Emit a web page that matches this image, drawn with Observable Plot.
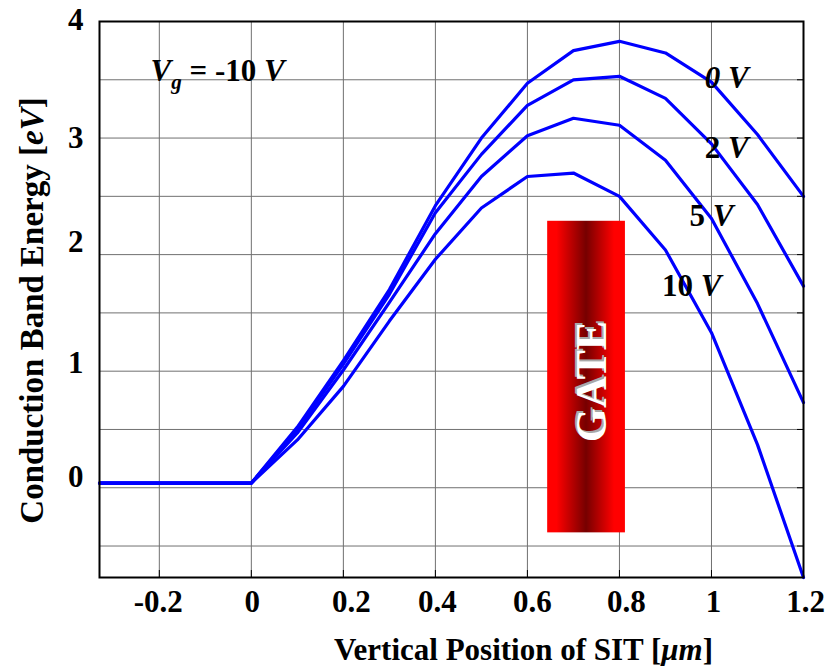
<!DOCTYPE html>
<html>
<head>
<meta charset="utf-8">
<script src="https://cdn.jsdelivr.net/npm/d3@7"></script>
<script src="https://cdn.jsdelivr.net/npm/@observablehq/plot@0.6"></script>
<style>
  html, body { margin: 0; padding: 0; background: #fff; }
  #chart { width: 828px; height: 666px; }
</style>
</head>
<body>
<div id="chart"></div>
<script>
// ---- data ----
const positions = [-0.33, 0, 0.1, 0.2, 0.3, 0.4, 0.5, 0.6, 0.7, 0.8, 0.9, 1.0, 1.1, 1.2];
const seriesNames = ["0 V", "2 V", "5 V", "10 V"];
const energy0V  = [0.04, 0.04, 0.52, 1.09, 1.70, 2.42, 3.00, 3.47, 3.75, 3.83, 3.73, 3.48, 3.03, 2.50];
const energy2V  = [0.04, 0.04, 0.50, 1.06, 1.66, 2.36, 2.86, 3.28, 3.50, 3.53, 3.34, 2.95, 2.43, 1.73];
const energy5V  = [0.04, 0.04, 0.47, 1.01, 1.59, 2.18, 2.67, 3.02, 3.17, 3.11, 2.81, 2.31, 1.58, 0.73];
const energy10V = [0.04, 0.04, 0.41, 0.87, 1.43, 1.96, 2.40, 2.67, 2.70, 2.50, 2.04, 1.33, 0.37, -0.77];
const xTicks = [-0.2, 0, 0.2, 0.4, 0.6, 0.8, 1, 1.2];
const xTickLabels = ["-0.2", "0", "0.2", "0.4", "0.6", "0.8", "1", "1.2"];
const yTicks = [0, 1, 2, 3, 4];
const yTickLabels = ["0", "1", "2", "3", "4"];
const yGridValues = [-0.5, 0, 0.5, 1, 1.5, 2, 2.5, 3, 3.5];
const xTitle = "Vertical Position of SIT [μm]";
const yTitle = "Conduction Band Energy [eV]";
const gateTitle = "Vg = -10 V";
const gateText = "GATE";

// ---- annotation layout (data units / pixels), kept apart from the values ----
const xDomain = [-0.33, 1.2];
const yDomain = [-0.77, 4];
const labelX = [1.033, 1.033, 1.000, 0.957];
const labelY = [3.516, 2.915, 2.332, 1.731];
const gateBox = {x1: 0.644, x2: 0.813, y1: -0.387, y2: 2.286};
const gateLabelPos = {x: 0.740, y: 0.911};
const vgPos = {x: -0.219, y: 3.576};
const xLabelShift = [-1, 1, 8, 2, 5, 7, 2, 2];
const yLabelShift = [-11, -8, -13, 0, -1];

const FONT = "'Liberation Serif', 'Times New Roman', serif";
const allSeries = [energy0V, energy2V, energy5V, energy10V];
const table = [];
allSeries.forEach((vals, s) => vals.forEach((v, i) => table.push({x: positions[i], y: v, series: seriesNames[s]})));
const labelRows = seriesNames.map((n, i) => ({name: n, x: labelX[i], y: labelY[i]}));

const textStyle = {fontFamily: FONT, fontWeight: "bold", fill: "black"};

const svg = Plot.plot({
  width: 828,
  height: 666,
  marginLeft: 99,
  marginRight: 25,
  marginTop: 21,
  marginBottom: 89,
  x: {domain: xDomain, axis: null},
  y: {domain: yDomain, axis: null},
  style: {background: "white", fontFamily: FONT},
  marks: [
    Plot.gridX(xTicks, {stroke: "#707070", strokeOpacity: 1, strokeWidth: 1}),
    Plot.gridY(yGridValues, {stroke: "#707070", strokeOpacity: 1, strokeWidth: 1}),
    Plot.axisX({ticks: xTicks, tickSize: 7, dy: -7, tickFormat: () => "", stroke: "black"}),
    Plot.axisY({anchor: "right", ticks: yGridValues, tickSize: 7, dx: -7, tickFormat: () => "", stroke: "black"}),
    Plot.rect([gateBox], {x1: "x1", x2: "x2", y1: "y1", y2: "y2", fill: "url(#gateGrad)"}),
    Plot.text([gateText], {x: () => gateLabelPos.x, y: () => gateLabelPos.y, text: d => d, rotate: -90, fontSize: 44, fontFamily: FONT, fontWeight: "bold", fill: "#a8a8a8", dx: -2, dy: -2}),
    Plot.text([gateText], {x: () => gateLabelPos.x, y: () => gateLabelPos.y, text: d => d, rotate: -90, fontSize: 44, fontFamily: FONT, fontWeight: "bold", fill: "white"}),
    Plot.line(table, {x: "x", y: "y", z: "series", stroke: "#0000ff", strokeWidth: 3.2, strokeLinejoin: "round"}),
    Plot.frame({stroke: "black", strokeWidth: 2}),
    ...xTicks.map((t, i) => Plot.text([t], {x: d => d, frameAnchor: "bottom", lineAnchor: "middle", textAnchor: "middle", dy: 25, dx: xLabelShift[i], text: () => xTickLabels[i], fontSize: 31, ...textStyle})),
    ...yTicks.map((t, i) => Plot.text([t], {y: d => d, frameAnchor: "left", lineAnchor: "middle", textAnchor: "end", dx: -16, dy: yLabelShift[i], text: () => yTickLabels[i], fontSize: 31, ...textStyle})),
    Plot.text([xTitle], {frameAnchor: "bottom", lineAnchor: "middle", textAnchor: "middle", dx: 72, dy: 73, text: d => d, fontSize: 31, ...textStyle}),
    Plot.text([yTitle], {frameAnchor: "left", lineAnchor: "middle", textAnchor: "middle", dx: -67, dy: 11, rotate: -90, text: d => d, fontSize: 33, ...textStyle}),
    Plot.text(labelRows, {x: "x", y: "y", text: "name", textAnchor: "middle", lineAnchor: "middle", fontSize: 31, ...textStyle}),
    Plot.text([gateTitle], {x: () => vgPos.x, y: () => vgPos.y, text: d => d, textAnchor: "start", lineAnchor: "middle", fontSize: 31, ...textStyle})
  ]
});

document.getElementById("chart").appendChild(svg);

// gradient for the gate electrode
d3.select(svg).insert("defs", ":first-child").html(
  `<linearGradient id="gateGrad" x1="0" x2="1" y1="0" y2="0">
     <stop offset="0" stop-color="#ff0000"/>
     <stop offset="0.12" stop-color="#ff0000"/>
     <stop offset="0.5" stop-color="#760000"/>
     <stop offset="0.86" stop-color="#ff0000"/>
     <stop offset="1" stop-color="#ff0000"/>
   </linearGradient>`);

// mixed upright / italic styling inside labels
d3.select(svg).selectAll("text").each(function () {
  const t = this.textContent;
  const sel = d3.select(this);
  let m;
  if (t === gateTitle) {
    sel.html(`<tspan font-style="italic">V</tspan><tspan font-style="italic" font-size="21" dy="8">g</tspan><tspan dy="-8"> = -10 </tspan><tspan font-style="italic">V</tspan>`);
  } else if ((m = /^(\d+) V$/.exec(t))) {
    sel.html(`<tspan font-style="${m[1] === "0" ? "italic" : "normal"}">${m[1]}</tspan> <tspan font-style="italic">V</tspan>`);
  } else if (t === xTitle) {
    sel.html(`Vertical Position of SIT [<tspan font-style="italic">μm</tspan>]`);
  } else if (t === yTitle) {
    sel.html(`Conduction Band Energy [<tspan font-style="italic">eV</tspan>]`);
  }
});
</script>
</body>
</html>
